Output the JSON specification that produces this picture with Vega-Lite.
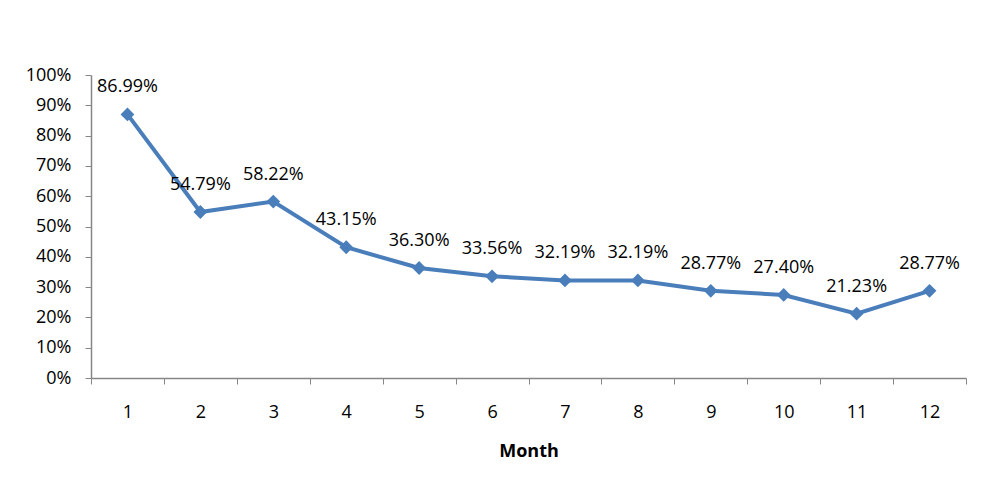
{
  "$schema": "https://vega.github.io/schema/vega-lite/v6.json",
  "width": 875,
  "height": 303,
  "autosize": {"type": "none"},
  "padding": {"left": 91, "top": 75, "right": 25, "bottom": 112},
  "background": "white",
  "config": {
    "view": {"stroke": null},
    "font": "Open Sans",
    "axis": {"domainColor": "#868686", "tickColor": "#868686", "grid": false, "labelColor": "#000000", "labelFont": "Open Sans", "labelFontSize": 18, "titleFont": "Open Sans", "labelOverlap": false}
  },
  "data": {"values": [
    {"Month": 1, "rate": 0.8699},
    {"Month": 2, "rate": 0.5479},
    {"Month": 3, "rate": 0.5822},
    {"Month": 4, "rate": 0.4315},
    {"Month": 5, "rate": 0.3630},
    {"Month": 6, "rate": 0.3356},
    {"Month": 7, "rate": 0.3219},
    {"Month": 8, "rate": 0.3219},
    {"Month": 9, "rate": 0.2877},
    {"Month": 10, "rate": 0.2740},
    {"Month": 11, "rate": 0.2123},
    {"Month": 12, "rate": 0.2877}
  ]},
  "encoding": {
    "x": {"field": "Month", "type": "ordinal", "scale": {"paddingInner": 0, "paddingOuter": 0},
      "axis": {"labelAngle": 0, "tickBand": "extent", "tickSize": 6, "labelPadding": 19, "title": "Month", "titleFontSize": 18, "titleFontWeight": "bold", "titlePadding": 21, "domainWidth": 1.5}},
    "y": {"field": "rate", "type": "quantitative", "scale": {"domain": [0, 1]},
      "axis": {"format": ".0%", "values": [0,0.1,0.2,0.3,0.4,0.5,0.6,0.7,0.8,0.9,1], "tickSize": 6, "labelPadding": 14, "title": null, "domainWidth": 1.5, "labelFlush": false}}
  },
  "layer": [
    {"mark": {"type": "line", "color": "#4A7EBB", "strokeWidth": 4}},
    {"mark": {"type": "point", "shape": "diamond", "filled": true, "opacity": 1, "color": "#4A7EBB", "size": 190}},
    {"mark": {"type": "text", "dy": -27, "fontSize": 18, "color": "#000000", "font": "Open Sans"},
      "encoding": {"text": {"field": "rate", "type": "quantitative", "format": ".2%"}}}
  ]
}
